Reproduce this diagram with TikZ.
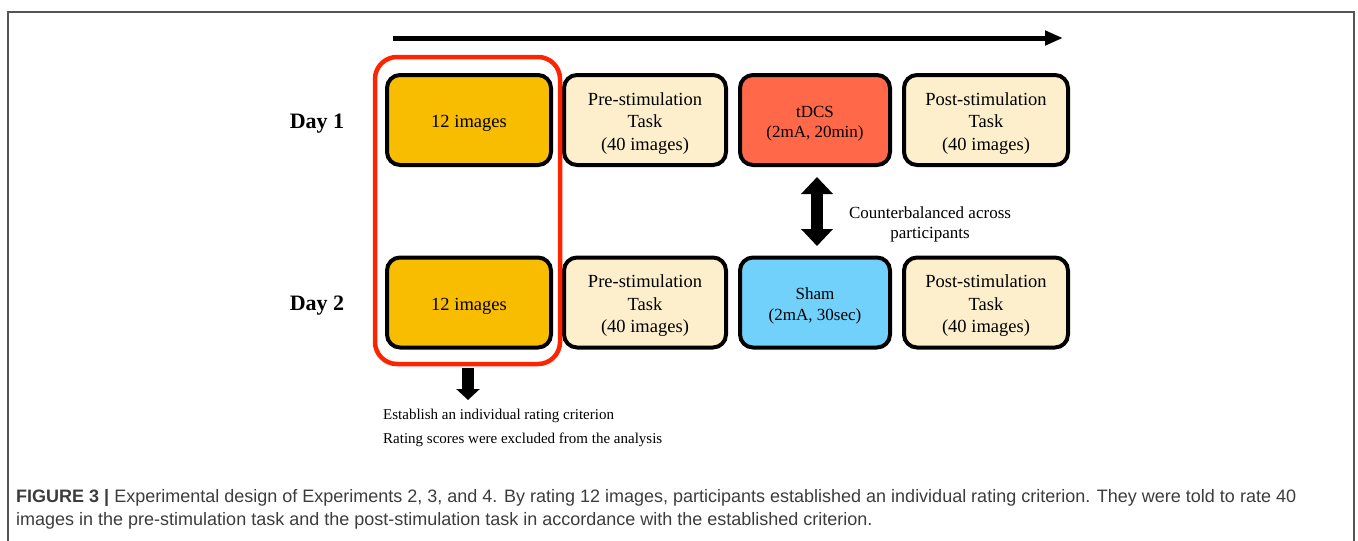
\documentclass[tikz,border=0pt]{standalone}
\usepackage{fontspec}
\setmainfont{Liberation Serif}
\newfontfamily\capfont{Liberation Sans}
\usetikzlibrary{arrows.meta}
\definecolor{cYel}{HTML}{F9BD00}
\definecolor{cCream}{HTML}{FDEFCC}
\definecolor{cRed}{HTML}{FF6849}
\definecolor{cBlue}{HTML}{72D1FB}
\definecolor{cOut}{HTML}{FF2400}
\definecolor{cCap}{HTML}{3C3C3C}
\definecolor{cFrame}{HTML}{555555}
\begin{document}
\begin{tikzpicture}[x=1pt,y=-1pt,
  stagebox/.style={draw=black,line width=4pt,rounded corners=13pt,minimum height=90pt,
    inner sep=0pt},
  boxtext/.style={align=center,inner sep=0pt,yshift=-3.5pt,font=\fontsize{18.5}{22.5}\selectfont},
  stimtext/.style={align=center,inner sep=0pt,yshift=-3.5pt,font=\fontsize{17}{20.5}\selectfont},
  daylabel/.style={font=\fontsize{22}{26}\selectfont\bfseries},
  note/.style={anchor=west,inner sep=0pt,font=\fontsize{15}{18}\selectfont},
  captext/.style={anchor=west,inner sep=0pt,text=cCap,font=\capfont\fontsize{18}{21}\selectfont},
  fatarrow/.style={line width=12pt}
]
\useasboundingbox (0,0) rectangle (1358,541);
\draw[cFrame,line width=1.5pt] (8,541) -- (8,12) -- (1354,12) -- (1354,541);

% time arrow
\coordinate (ts) at (393,38);
\coordinate (te) at (1063,38);
\draw[line width=5pt,-{Triangle[length=18pt,width=14pt]}] (ts) -- (te);

% row 1
\node[stagebox,fill=cYel,minimum width=164pt,label={[boxtext]center:12 images}] (a1) at (469,120) {};
\node[stagebox,fill=cCream,minimum width=162pt,label={[boxtext]center:{Pre-stimulation\\Task\\(40 images)}}] (b1) at (645,120) {};
\node[stagebox,fill=cRed,minimum width=150pt,label={[stimtext]center:{tDCS\\(2mA, 20min)}}] (c1) at (815,120) {};
\node[stagebox,fill=cCream,minimum width=164pt,label={[boxtext]center:{Post-stimulation\\Task\\(40 images)}}] (d1) at (986,120) {};

% row 2
\node[stagebox,fill=cYel,minimum width=164pt,label={[boxtext]center:12 images}] (a2) at (469,302.5) {};
\node[stagebox,fill=cCream,minimum width=162pt,label={[boxtext]center:{Pre-stimulation\\Task\\(40 images)}}] (b2) at (645,302.5) {};
\node[stagebox,fill=cBlue,minimum width=150pt,label={[stimtext]center:{Sham\\(2mA, 30sec)}}] (c2) at (815,302.5) {};
\node[stagebox,fill=cCream,minimum width=164pt,label={[boxtext]center:{Post-stimulation\\Task\\(40 images)}}] (d2) at (986,302.5) {};

% day labels
\node[daylabel] (day1) at (317,124) {Day 1};
\node[daylabel] (day2) at (317,306) {Day 2};

% red group outline
\node[draw=cOut,line width=4.5pt,rounded corners=22pt,minimum width=185pt,minimum height=307pt,inner sep=0pt] (grp) at (467.5,210.5) {};

% counterbalance arrow
\coordinate (ua) at (817,177);
\coordinate (ub) at (817,246);
\draw[fatarrow,{Triangle[length=17pt,width=31pt]}-{Triangle[length=17pt,width=31pt]}] (ua) -- (ub);
\node[stimtext,yshift=0pt] (cb) at (930,221) {Counterbalanced across\\participants};

% down arrow
\coordinate (da) at (468,368);
\coordinate (db) at (468,400);
\draw[fatarrow,-{Triangle[length=11pt,width=23pt]}] (da) -- (db);
\node[note] (n1) at (383,416) {Establish an individual rating criterion};
\node[note] (n2) at (383,440) {Rating scores were excluded from the analysis};

% caption
\node[captext] (cap1) at (16,498) {\textbf{FIGURE 3 |} Experimental design of Experiments 2, 3, and 4. By rating 12 images, participants established an individual rating criterion. They were told to rate 40};
\node[captext] (cap2) at (16,521) {images in the pre-stimulation task and the post-stimulation task in accordance with the established criterion.};
\end{tikzpicture}
\end{document}
